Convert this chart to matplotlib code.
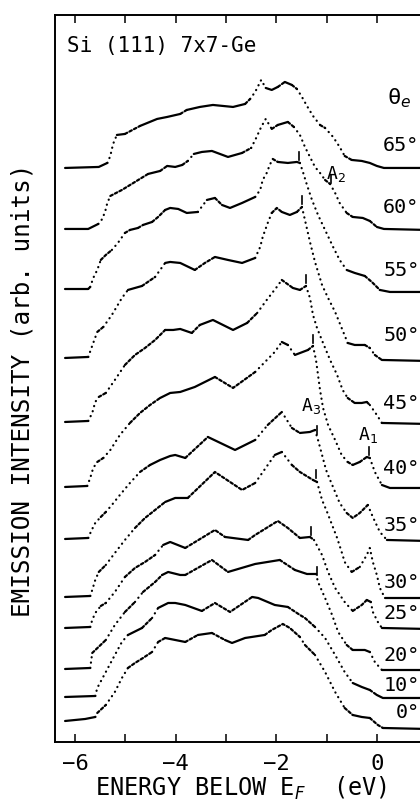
import numpy as np
import matplotlib
matplotlib.use("Agg")
import matplotlib.pyplot as plt

plt.rcParams['font.family'] = ['DejaVu Sans Mono', 'DejaVu Sans']
plt.rcParams['mathtext.fontset'] = 'dejavusans'

# emission angles, top curve first
angles = [65, 60, 55, 50, 45, 40, 35, 30, 25, 20, 10, 0]

# energy below E_F (eV) and stacked intensity (arb. units) per angle
E_65 = [-6.20, -5.53, -5.36, -5.30, -5.27, -5.23, -5.17, -5.01, -4.71, -4.37, -4.17, -3.91, -3.78, -3.52, -3.26, -2.86,
        -2.62, -2.52, -2.42, -2.30, -2.21, -2.09, -1.97, -1.83, -1.69, -1.59, -1.49, -1.39, -1.27, -1.13, -1.03, -0.87,
        -0.74, -0.64, -0.50, -0.30, -0.14, 0.00, 0.14, 1.00]
I_65 = [574, 575, 579, 586, 593, 600, 607, 608, 616, 623, 625, 628, 632, 635, 637, 635,
        638, 643, 650, 662, 654, 652, 655, 660, 657, 653, 645, 636, 626, 617, 614, 605,
        595, 586, 582, 581, 579, 576, 574, 574]

E_60 = [-6.20, -5.74, -5.54, -5.46, -5.40, -5.36, -5.30, -5.07, -4.81, -4.55, -4.31, -4.17, -4.01, -3.87, -3.76, -3.64,
        -3.48, -3.28, -2.96, -2.68, -2.50, -2.40, -2.30, -2.21, -2.09, -1.97, -1.77, -1.65, -1.53, -1.43, -1.33, -1.23,
        -1.13, -1.03, -0.93, -0.83, -0.74, -0.60, -0.48, -0.28, -0.14, 0.00, 0.14, 1.00]
I_60 = [513, 513, 518, 523, 531, 539, 546, 552, 560, 568, 571, 576, 575, 577, 581, 588,
        590, 591, 585, 589, 594, 604, 615, 623, 613, 617, 620, 615, 607, 595, 585, 575,
        569, 562, 558, 549, 539, 529, 525, 524, 521, 515, 513, 512]

E_55 = [-6.20, -5.74, -5.70, -5.64, -5.56, -5.49, -5.39, -5.27, -5.15, -5.01, -4.91, -4.75, -4.65, -4.47, -4.35, -4.21,
        -4.11, -3.95, -3.78, -3.56, -3.38, -3.22, -3.08, -2.92, -2.68, -2.42, -2.32, -2.27, -2.19, -2.13, -2.07, -1.97,
        -1.77, -1.59, -1.53, -1.47, -1.39, -1.29, -1.17, -1.03, -0.87, -0.74, -0.60, -0.44, -0.24, -0.10, 0.06, 0.26, 1.00]
I_55 = [453, 453, 455, 464, 472, 482, 487, 492, 499, 509, 512, 514, 517, 520, 525, 532,
        534, 533, 529, 530, 542, 544, 537, 534, 539, 545, 552, 562, 569, 577, 583, 580,
        579, 580, 579, 570, 557, 542, 527, 512, 495, 482, 472, 469, 466, 460, 452, 450, 450]

E_50 = [-6.20, -5.74, -5.64, -5.56, -5.44, -5.27, -5.07, -4.95, -4.67, -4.41, -4.21, -4.11, -3.91, -3.62, -3.42, -3.22,
        -2.96, -2.68, -2.42, -2.32, -2.27, -2.17, -2.09, -1.99, -1.89, -1.73, -1.59, -1.49, -1.43, -1.33, -1.23, -1.09,
        -0.97, -0.83, -0.70, -0.58, -0.44, -0.24, -0.14, -0.04, 0.10, 1.00]
I_50 = [384, 385, 399, 410, 415, 427, 444, 452, 456, 465, 479, 480, 479, 472, 479, 485,
        482, 479, 484, 495, 505, 519, 529, 534, 530, 527, 530, 535, 522, 500, 480, 457,
        444, 430, 414, 399, 397, 397, 394, 387, 382, 381]

E_45 = [-6.20, -5.74, -5.66, -5.60, -5.53, -5.39, -5.21, -5.01, -4.81, -4.61, -4.41, -4.21, -4.05, -3.91, -3.68, -3.52,
        -3.26, -3.06, -2.86, -2.58, -2.38, -2.19, -1.99, -1.89, -1.67, -1.53, -1.41, -1.33, -1.27, -1.19, -1.07, -0.93,
        -0.79, -0.68, -0.58, -0.44, -0.30, -0.20, -0.14, 0.00, 0.10, 1.00]
I_45 = [320, 321, 329, 340, 345, 349, 362, 377, 387, 394, 402, 412, 412, 413, 409, 417,
        422, 417, 412, 419, 429, 442, 455, 462, 454, 452, 456, 444, 427, 414, 399, 382,
        367, 352, 344, 339, 339, 340, 337, 327, 319, 318]

E_40 = [-6.20, -5.76, -5.70, -5.64, -5.56, -5.44, -5.30, -5.11, -4.91, -4.71, -4.51, -4.31, -4.11, -3.91, -3.62, -3.22,
        -2.86, -2.42, -2.03, -1.89, -1.77, -1.63, -1.37, -1.27, -1.21, -1.17, -1.13, -1.07, -0.97, -0.83, -0.70, -0.58,
        -0.48, -0.34, -0.20, -0.14, -0.04, 0.10, 0.26, 1.00]
I_40 = [255, 256, 264, 274, 280, 284, 292, 307, 319, 329, 337, 344, 349, 350, 355, 365,
        354, 370, 390, 400, 397, 387, 392, 396, 382, 367, 352, 334, 317, 302, 287, 280,
        277, 280, 285, 284, 270, 257, 254, 254]

E_35 = [-6.20, -5.74, -5.68, -5.60, -5.49, -5.39, -5.27, -5.11, -4.91, -4.71, -4.51, -4.31, -4.11, -4.01, -3.81, -3.36,
        -2.82, -2.42, -2.17, -1.89, -1.69, -1.53, -1.33, -1.23, -1.17, -1.09, -1.01, -0.93, -0.83, -0.74, -0.60, -0.48,
        -0.34, -0.18, -0.08, 0.06, 0.20, 1.00]
I_35 = [203, 204, 211, 219, 225, 230, 237, 247, 259, 270, 277, 282, 286, 287, 284, 305,
        292, 302, 317, 330, 314, 309, 310, 312, 302, 287, 272, 262, 250, 239, 229, 224,
        229, 237, 225, 210, 202, 201]

E_30 = [-6.20, -5.70, -5.66, -5.60, -5.53, -5.39, -5.21, -5.01, -4.81, -4.61, -4.41, -4.21, -4.01, -3.76, -3.22, -2.68,
        -2.42, -2.03, -1.89, -1.69, -1.53, -1.27, -1.19, -1.09, -0.99, -0.89, -0.79, -0.70, -0.64, -0.50, -0.34, -0.20,
        -0.14, -0.08, 0.00, 0.06, 0.16, 1.00]
I_30 = [145, 146, 152, 162, 170, 177, 189, 202, 214, 224, 232, 240, 244, 244, 270, 252,
        259, 287, 290, 277, 270, 262, 260, 242, 230, 217, 204, 190, 180, 170, 175, 187,
        194, 180, 167, 154, 144, 144]

E_25 = [-6.20, -5.70, -5.66, -5.60, -5.49, -5.39, -5.21, -5.01, -4.81, -4.61, -4.41, -4.25, -4.11, -3.81, -3.22, -3.02,
        -2.56, -2.42, -1.97, -1.77, -1.53, -1.33, -1.25, -1.09, -0.97, -0.83, -0.64, -0.48, -0.30, -0.20, -0.12, -0.08,
        0.02, 0.10, 1.00]
I_25 = [114, 115, 122, 129, 136, 139, 150, 165, 174, 180, 187, 197, 200, 194, 212, 205,
        202, 207, 221, 214, 204, 205, 202, 187, 170, 154, 140, 131, 137, 142, 140, 130,
        120, 114, 113]

E_20 = [-6.20, -5.70, -5.66, -5.39, -5.21, -5.01, -4.81, -4.65, -4.41, -4.27, -4.15, -3.91, -3.81, -3.28, -2.96, -2.42,
        -1.93, -1.63, -1.39, -1.21, -1.17, -1.03, -0.89, -0.77, -0.60, -0.48, -0.24, -0.14, -0.04, 0.10, 1.00]
I_20 = [73, 74, 89, 102, 117, 130, 140, 150, 160, 167, 170, 167, 167, 182, 170, 178,
        182, 172, 168, 168, 160, 144, 127, 110, 97, 92, 92, 90, 80, 72, 72]

E_10 = [-6.20, -5.60, -5.56, -5.39, -5.21, -5.07, -4.95, -4.67, -4.47, -4.35, -4.15, -4.01, -3.81, -3.48, -3.22, -2.92,
        -2.48, -2.36, -2.03, -1.77, -1.53, -1.43, -1.23, -1.03, -0.83, -0.64, -0.48, -0.30, -0.14, 0.00, 0.12, 1.00]
I_10 = [45, 46, 54, 70, 87, 100, 107, 114, 124, 134, 139, 139, 137, 131, 139, 130,
        145, 144, 137, 135, 127, 124, 115, 104, 87, 70, 59, 55, 52, 47, 44, 44]

E_0 = [-6.20, -5.80, -5.60, -5.56, -5.39, -5.21, -5.07, -4.95, -4.81, -4.65, -4.47, -4.35, -4.21, -4.01, -3.81, -3.56,
       -3.28, -3.02, -2.88, -2.62, -2.23, -2.09, -1.87, -1.73, -1.53, -1.43, -1.23, -1.03, -0.83, -0.64, -0.48, -0.30,
       -0.14, 0.02, 0.12, 1.00]
I_0 = [21, 23, 25, 29, 37, 50, 64, 74, 79, 84, 90, 100, 104, 102, 100, 107,
       109, 102, 99, 104, 107, 112, 118, 114, 105, 97, 87, 70, 50, 34, 27, 25,
       24, 17, 14, 13]

# A3 peak marks (short ticks) on the spectra
a3_angles = [55, 50, 45, 40, 35, 30, 25, 20]
a3_energy = [-1.55, -1.49, -1.41, -1.27, -1.19, -1.21, -1.31, -1.19]
a1_angle, a1_energy = 40, -0.16
a2_angle, a2_energy = 60, -0.91

# heights of the angle labels at the right
label_y = [587, 525, 462, 397, 329, 264, 207, 150, 119, 77, 47, 20]

spectra = {65: (E_65, I_65), 60: (E_60, I_60), 55: (E_55, I_55), 50: (E_50, I_50),
           45: (E_45, I_45), 40: (E_40, I_40), 35: (E_35, I_35), 30: (E_30, I_30),
           25: (E_25, I_25), 20: (E_20, I_20), 10: (E_10, I_10), 0: (E_0, I_0)}

fig = plt.figure(figsize=(4.2, 8.08), dpi=100)
ax = fig.add_axes([0.131, 0.0817, 0.886, 0.8998])
ax.set_xlim(-6.4, 1.0)
ax.set_ylim(0, 727)


def draw_spectrum(e, y):
    # steep parts were sampled sparsely in the original, so they show as dots
    e = np.asarray(e, float)
    y = np.asarray(y, float)
    xy = ax.transData.transform(np.column_stack([e, y]))
    slope = np.abs(np.diff(xy[:, 1]) / np.diff(xy[:, 0]))
    kind = np.where(slope > 1.0, 2, np.where(slope > 0.5, 1, 0))
    styles = {0: '-', 1: (0, (1.2, 1.1)), 2: (0, (0.1, 2.3))}
    start = 0
    for k in range(1, len(kind) + 1):
        if k == len(kind) or kind[k] != kind[start]:
            part = slice(start, k + 1)
            ax.plot(e[part], y[part], color='k', lw=1.6, ls=styles[kind[start]],
                    dash_capstyle='round', solid_capstyle='round',
                    solid_joinstyle='round')
            start = k


for ang in angles:
    draw_spectrum(*spectra[ang])


def mark(ang, en):
    e, y = spectra[ang]
    y0 = np.interp(en, e, y)
    ax.plot([en, en], [y0 + 3, y0 + 11], color='k', lw=1.2)


for ang, en in zip(a3_angles, a3_energy):
    mark(ang, en)
mark(a1_angle, a1_energy)
mark(a2_angle, a2_energy)

ax.text(-0.82, 568, r'A$_2$', fontsize=13, ha='center', va='center')
ax.text(-1.30, 336, r'A$_3$', fontsize=13, ha='center', va='center')
ax.text(-0.17, 307, r'A$_1$', fontsize=13, ha='center', va='center')

for ang, ly in zip(angles, label_y):
    ax.text(0.85, ly, f'{ang}°', fontsize=14.5, ha='right', va='bottom', clip_on=False)
ax.text(0.20, 632, r'θ$_e$', fontsize=16, ha='left', va='bottom')

ax.text(-6.16, 690, 'Si (111) 7x7-Ge', fontsize=15, ha='left', va='baseline')

ax.set_xticks(np.arange(-6, 1, 1))
ax.set_xticklabels(['\u22126', '', '\u22124', '', '\u22122', '', '0'])
ax.tick_params(axis='x', direction='in', top=True, length=6, width=1.1,
               labelsize=16, pad=9)
ax.set_yticks([])
for s in ax.spines.values():
    s.set_linewidth(1.4)

ax.set_xlabel(r'ENERGY BELOW E$_F$  (eV)', fontsize=17, labelpad=0)
ax.set_ylabel('EMISSION INTENSITY (arb. units)', fontsize=17.5)
ax.yaxis.set_label_coords(-0.055, 0.484)

fig.savefig('out.png', dpi=100)
